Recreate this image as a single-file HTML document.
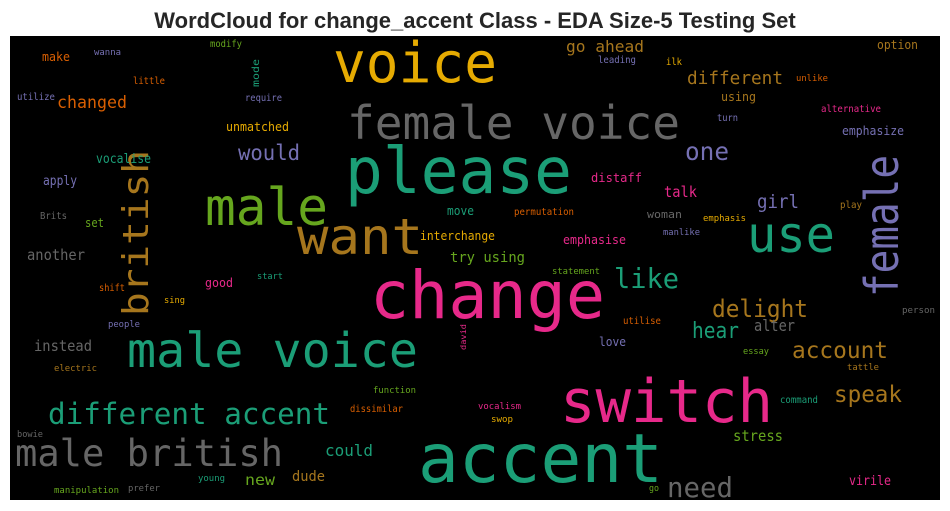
<!DOCTYPE html>
<html><head><meta charset="utf-8"><style>
html,body{margin:0;padding:0;background:#fff;width:950px;height:511px;overflow:hidden}
svg text{font-family:"DejaVu Sans Mono","Liberation Mono",monospace}
svg text.title{font-family:"Liberation Sans",Arial,sans-serif;font-weight:bold}
</style></head><body>
<svg id="c" width="950" height="511" viewBox="0 0 950 511" xmlns="http://www.w3.org/2000/svg">
<text class="title" x="475" y="28" text-anchor="middle" font-size="22" fill="#262626">WordCloud for change_accent Class - EDA Size-5 Testing Set</text>
<rect x="10" y="36" width="930" height="464" fill="#000"/>
<g id="words"></g>
</svg>
<script>
// word, left x, baseline y, font size, ink width, color index, rotated
const words = ["voice","female voice","please","male","want","use","female","british","change","male voice","different accent","male british","accent","switch","need","like","delight","hear","alter","account","speak","stress","virile","one","different","go ahead","would","changed","girl","talk","distaff","emphasise","interchange","try using","move","permutation","statement","another","instead","vocalise","apply","Brits","set","unmatched","require","mode","modify","little","wanna","make","utilize","leading","ilk","option","unlike","using","alternative","turn","emphasize","play","emphasis","woman","manlike","person","utilise","love","essay","tattle","command","vocalism","swop","go","david","start","good","shift","sing","people","electric","function","dissimilar","could","new","dude","young","prefer","manipulation","bowie"];
const xs = [333,347,345,205,297,747,898,148,370,127,48,15,418,560,667,614,712,692,754,792,834,733,849,685,687,566,238,57,757,664,591,563,420,450,447,514,552,27,34,96,43,40,85,226,245,259,210,133,94,42,17,598,666,877,796,721,821,717,842,840,703,647,663,902,623,599,743,847,780,478,491,649,466,257,205,99,164,108,54,373,350,325,245,292,198,128,54,17];
const ys = [82,139,193,225,254,252,297,316,318,367,424,466,482,422,497,288,317,338,331,358,402,441,485,160,84,52,160,108,208,197,182,244,240,262,215,215,274,260,351,163,185,219,227,131,101,87,47,84,55,61,100,63,65,49,81,101,112,121,135,208,221,218,235,313,324,346,354,370,403,409,422,491,350,279,287,291,303,327,371,393,412,456,485,481,481,491,493,437];
const sizes = [56,46,64,52,50,50,46,36,66,48,29,37,68,60,28,28,24,22,16,23,23,15,13,25,18,16,21,17,19,15,12,12,12,14,12,10,9,15,15,13,13,10,12,12,10,10,10,10,9,12,10,10,10,12,9,12,10,10,12,10,9,11,9,9,10,12,9,9,10,9,9,9,8,9,12,10,9,9,9,9,10,16,15,14,9,9,9,9];
const widths = [164,333,227,123,126,88,142,166,235,291,282,268,245,213,66,65,96,47,41,96,68,50,42,44,96,78,62,70,42,33,51,63,75,75,27,60,48,58,58,55,34,27,19,63,37,28,32,32,27,28,38,38,16,41,32,35,60,21,62,22,43,35,37,33,38,27,26,32,38,43,22,10,26,26,28,26,21,32,43,43,53,48,30,33,27,32,65,26];
const colorIdx = [5,7,0,4,6,0,2,6,3,0,0,7,0,3,7,0,6,0,7,6,6,4,3,2,6,6,2,1,2,3,3,3,5,4,0,1,4,7,7,0,2,7,4,5,2,0,4,1,2,1,2,2,5,6,1,6,3,2,2,6,5,7,2,7,1,2,4,6,0,3,5,4,3,0,3,1,5,2,6,4,1,0,4,6,0,7,4,7];
const rotated = ["mode","female","british","david"];
const palette = ["#1b9e77","#d95f02","#7570b3","#e7298a","#66a61e","#e6ab02","#a6761d","#666666"];
const g = document.getElementById('words');
const NS = "http://www.w3.org/2000/svg";
words.forEach((w,i)=>{
  const t = document.createElementNS(NS,'text');
  
  
  t.textContent = w;
  t.setAttribute('font-size', sizes[i]);
  t.setAttribute('fill', palette[colorIdx[i]]);
  t.setAttribute('textLength', widths[i]);
  t.setAttribute('lengthAdjust', 'spacingAndGlyphs');
  if (rotated.includes(w)) {
    t.setAttribute('x', 0); t.setAttribute('y', 0);
    t.setAttribute('transform', 'translate(' + xs[i] + ',' + ys[i] + ') rotate(-90)');
  } else {
    t.setAttribute('x', xs[i]); t.setAttribute('y', ys[i]);
  }
  g.appendChild(t);
});
</script>
</body></html>
